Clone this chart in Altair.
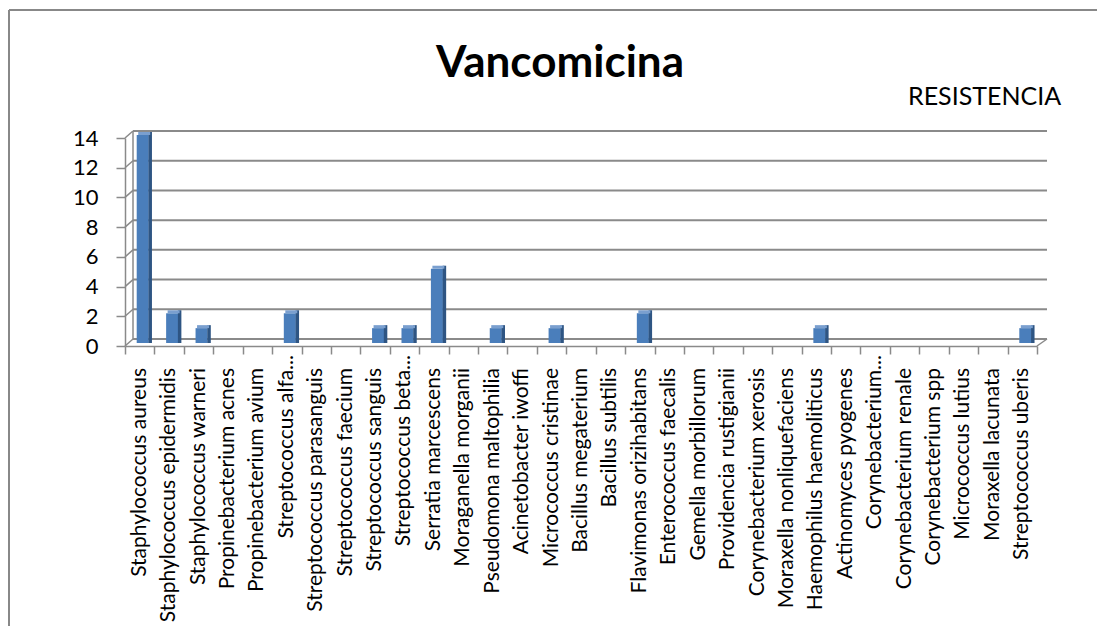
import altair as alt
import pandas as pd

categories = [
    "Staphylococcus aureus", "Staphylococcus epidermidis", "Staphylococcus warneri",
    "Propinebacterium acnes", "Propinebacterium avium", "Streptococcus alfa...",
    "Streptococcus parasanguis", "Streptococcus faecium", "Streptococcus sanguis",
    "Streptococcus beta...", "Serratia marcescens", "Moraganella morganii",
    "Pseudomona maltophilia", "Acinetobacter iwoffi", "Micrococcus cristinae",
    "Bacillus megaterium", "Bacillus subtilis", "Flavimonas orizihabitans",
    "Enterococcus faecalis", "Gemella morbillorum", "Providencia rustigianii",
    "Corynebacterium xerosis", "Moraxella nonliquefaciens", "Haemophilus haemoliticus",
    "Actinomyces pyogenes", "Corynebacterium...", "Corynebacterium renale",
    "Corynebacterium spp", "Micrococcus lutius", "Moraxella lacunata",
    "Streptococcus uberis",
]
resistencia = [14, 2, 1, 0, 0, 2, 0, 0, 1, 1, 5, 0, 1, 0, 1, 0, 0, 2,
               0, 0, 0, 0, 0, 1, 0, 0, 0, 0, 0, 0, 1]
y_ticks = [0, 2, 4, 6, 8, 10, 12, 14]
title_text = "Vancomicina"
series_name = "RESISTENCIA"

W, H = 912, 208
FONT = "Lato"
GRAY = "#8A8A8A"

df = pd.DataFrame({"cat": categories, "val": resistencia})
df["trunc"] = df["cat"].str.endswith("...")
ticks_df = pd.DataFrame({"v": y_ticks})
one = pd.DataFrame({"k": [0]})

xs = alt.Scale(domain=categories, paddingInner=0, paddingOuter=0)
ys = alt.Scale(domain=[0, 14], nice=False, zero=True)

yaxis = alt.Axis(title=None, values=y_ticks, tickSize=9, tickColor=GRAY,
                 tickWidth=1.5, domainColor=GRAY, domainWidth=1.5,
                 labelFont=FONT, labelFontSize=22, labelColor="#000000",
                 labelPadding=18, labelOverlap=False, grid=False)
xaxis = alt.Axis(title=None, labels=False, tickBand="extent", tickSize=8,
                 tickColor=GRAY, tickWidth=1.5, domainColor=GRAY,
                 domainWidth=1.5, grid=False)

# outer border (left + top)
border_left = alt.Chart(one).mark_rule(color="#888888", strokeWidth=2).encode(
    x=alt.value(-116), x2=alt.value(-116), y=alt.value(-128), y2=alt.value(H + 300))
border_top = alt.Chart(one).mark_rule(color="#888888", strokeWidth=2).encode(
    x=alt.value(-116), x2=alt.value(W + 100), y=alt.value(-128), y2=alt.value(-128))

# back wall gridlines
grid = alt.Chart(ticks_df).mark_rule(color=GRAY, strokeWidth=2, yOffset=-7).encode(
    y=alt.Y("v:Q", scale=ys, axis=yaxis), x=alt.value(8), x2=alt.value(W + 10))
diag = alt.Chart(ticks_df).mark_rule(color=GRAY, strokeWidth=1.5, y2Offset=-7).encode(
    y=alt.Y("v:Q", scale=ys, axis=yaxis), y2=alt.Y2("v:Q"),
    x=alt.value(0), x2=alt.value(8))
wall = alt.Chart(one).mark_rule(color=GRAY, strokeWidth=1.5, yOffset=-7, y2Offset=-7).encode(
    x=alt.value(8), y=alt.datum(0, scale=ys, axis=yaxis), y2=alt.datum(14))
floor_r = alt.Chart(one).mark_rule(color=GRAY, strokeWidth=1.5, y2Offset=-7).encode(
    x=alt.value(W), x2=alt.value(W + 10), y=alt.datum(0, scale=ys, axis=yaxis),
    y2=alt.datum(0))

front = alt.Chart(df).transform_filter("datum.val > 0").mark_bar(
    size=12, xOffset=3, yOffset=-3, y2Offset=-3, color="#4A7EBB").encode(
    x=alt.X("cat:N", scale=xs, sort=None, axis=xaxis),
    y=alt.Y("val:Q", scale=ys, axis=yaxis),
    y2=alt.datum(0),
)
side = alt.Chart(df).transform_filter("datum.val > 0").mark_bar(
    size=3.5, xOffset=10.5, yOffset=-6, y2Offset=-3, color="#2E5583").encode(
    x=alt.X("cat:N", scale=xs, sort=None, axis=xaxis),
    y=alt.Y("val:Q", scale=ys, axis=yaxis), y2=alt.datum(0))
top = alt.Chart(df).transform_filter("datum.val > 0").mark_bar(
    size=12, xOffset=4.5, yOffset=-6, y2Offset=-3, color="#7A9FCF").encode(
    x=alt.X("cat:N", scale=xs, sort=None, axis=xaxis),
    y=alt.Y("val:Q", scale=ys, axis=yaxis), y2=alt.Y2("val:Q"))

labels = alt.Chart(df).transform_filter("!datum.trunc").mark_text(
    angle=270, align="right", baseline="middle", font=FONT, fontSize=21,
    color="#000000").encode(
    x=alt.X("cat:N", scale=xs, sort=None, axis=xaxis), y=alt.value(H + 22),
    text="cat:N")
labels_t = alt.Chart(df).transform_filter("datum.trunc").mark_text(
    angle=270, align="right", baseline="middle", font=FONT, fontSize=21,
    color="#000000").encode(
    x=alt.X("cat:N", scale=xs, sort=None, axis=xaxis), y=alt.value(H + 9),
    text="cat:N")

title = alt.Chart(one).mark_text(text=title_text, font=FONT, fontSize=44,
                                 fontWeight="bold", align="center",
                                 baseline="alphabetic", color="#000000").encode(
    x=alt.value(435), y=alt.value(-61))
legend = alt.Chart(one).mark_text(text=series_name, font=FONT, fontSize=25,
                                  align="left", baseline="alphabetic",
                                  color="#000000").encode(
    x=alt.value(783), y=alt.value(-33))

chart = alt.layer(
    border_left, border_top, grid, diag, wall, floor_r,
    front, side, top, labels, labels_t, title, legend,
).properties(
    width=W, height=H,
    padding={"left": 117, "top": 130, "right": 60, "bottom": 280},
    autosize=alt.AutoSizeParams(type="none"),
).configure_view(stroke=None)

chart.save("out.html", embed_options={"renderer": "svg", "actions": False})
